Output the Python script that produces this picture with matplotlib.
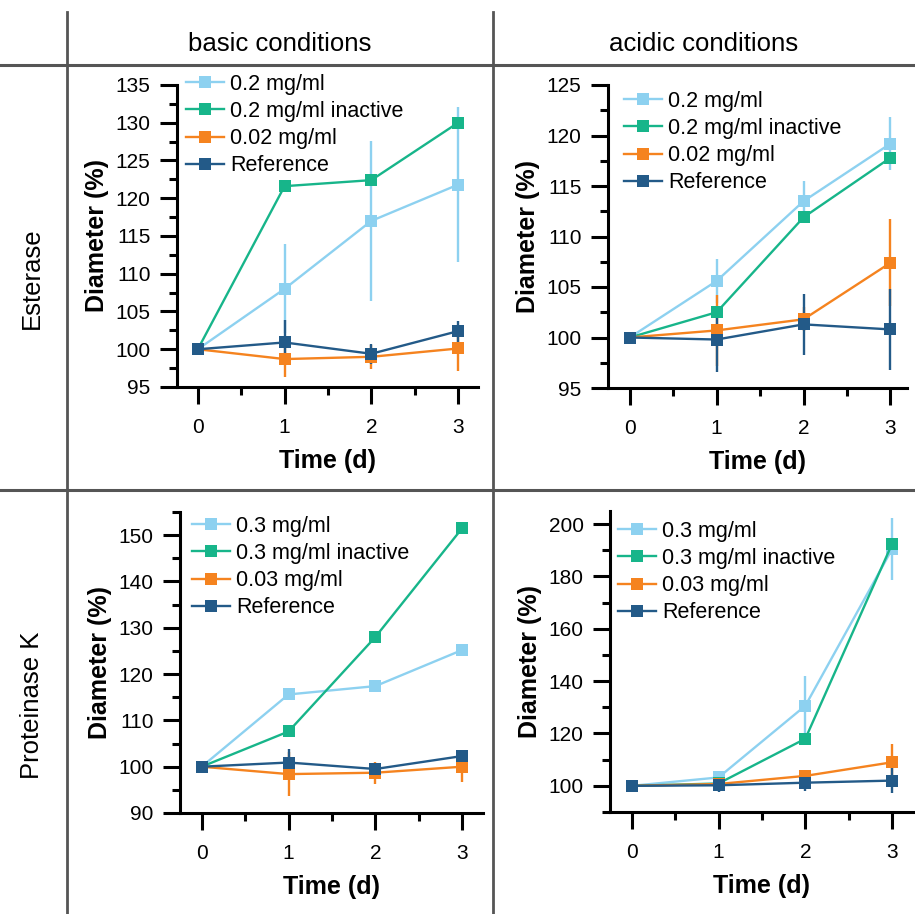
import matplotlib
matplotlib.use("Agg")
import matplotlib.pyplot as plt
from matplotlib.lines import Line2D
from matplotlib.ticker import MultipleLocator

TIME = [0, 1, 2, 3]

# esterase, basic conditions
est_basic_hi = [100, 108.0, 117.0, 121.8]
est_basic_hi_err = [0, 5.9, 10.6, 10.3]
est_basic_inact = [100, 121.6, 122.4, 130.0]
est_basic_inact_err = [0, 0.4, 0.5, 0.6]
est_basic_lo = [100, 98.7, 99.0, 100.1]
est_basic_lo_err = [0, 2.4, 1.6, 3.0]
est_basic_ref = [100, 100.9, 99.4, 102.4]
est_basic_ref_err = [0, 3.0, 1.3, 1.4]

# esterase, acidic conditions
est_acid_hi = [100, 105.6, 113.5, 119.2]
est_acid_hi_err = [0, 2.2, 2.0, 2.6]
est_acid_inact = [100, 102.5, 111.9, 117.8]
est_acid_inact_err = [0, 0.6, 0.5, 0.6]
est_acid_lo = [100, 100.7, 101.8, 107.4]
est_acid_lo_err = [0, 3.5, 1.2, 4.3]
est_acid_ref = [100, 99.8, 101.3, 100.8]
est_acid_ref_err = [0, 3.2, 3.05, 4.05]

# proteinase K, basic conditions
pk_basic_hi = [100, 115.6, 117.4, 125.2]
pk_basic_hi_err = [0, 0.5, 0.5, 0.5]
pk_basic_inact = [100, 107.6, 128.0, 151.5]
pk_basic_inact_err = [0, 0.5, 0.5, 0.5]
pk_basic_lo = [100, 98.4, 98.7, 100.0]
pk_basic_lo_err = [0, 4.8, 2.4, 3.2]
pk_basic_ref = [100, 100.9, 99.5, 102.3]
pk_basic_ref_err = [0, 3.0, 1.2, 1.3]

# proteinase K, acidic conditions
pk_acid_hi = [100, 103.2, 130.6, 190.5]
pk_acid_hi_err = [0, 1.0, 11.5, 12.0]
pk_acid_inact = [100, 100.9, 118.0, 192.5]
pk_acid_inact_err = [0, 0.8, 1.5, 1.5]
pk_acid_lo = [100, 100.7, 103.8, 109.0]
pk_acid_lo_err = [0, 1.0, 1.5, 7.0]
pk_acid_ref = [100, 100.2, 101.2, 102.0]
pk_acid_ref_err = [0, 2.6, 3.0, 4.8]

EST_LABELS = ["0.2 mg/ml", "0.2 mg/ml inactive", "0.02 mg/ml", "Reference"]
PK_LABELS = ["0.3 mg/ml", "0.3 mg/ml inactive", "0.03 mg/ml", "Reference"]
COLORS = ["#8DD1F0", "#17B58A", "#F5831F", "#235A88"]

COLUMN_TITLES = ["basic conditions", "acidic conditions"]
ROW_TITLES = ["Esterase", "Proteinase K"]

W, H = 915, 914

plt.rcParams.update({
    "font.family": ["Liberation Sans", "DejaVu Sans"],
    "font.size": 15,
    "axes.linewidth": 2.2,
    "xtick.major.width": 2.2,
    "ytick.major.width": 2.2,
    "xtick.minor.width": 2.2,
    "ytick.minor.width": 2.2,
    "xtick.major.size": 12,
    "ytick.major.size": 12,
    "xtick.minor.size": 5.5,
    "ytick.minor.size": 5.5,
    "xtick.direction": "out",
    "ytick.direction": "out",
})

fig = plt.figure(figsize=(W / 100, H / 100), dpi=100)


def px_rect(left, top, right, bottom):
    return [left / W, 1 - bottom / H, (right - left) / W, (bottom - top) / H]


panels = [
    dict(rect=px_rect(177, 85, 478, 387), xlim=(-0.24, 3.23), ylim=(95, 135),
         major=5, minor=2.5, labels=EST_LABELS, leg=(186, 74),
         series=[(est_basic_hi, est_basic_hi_err), (est_basic_inact, est_basic_inact_err),
                 (est_basic_lo, est_basic_lo_err), (est_basic_ref, est_basic_ref_err)]),
    dict(rect=px_rect(608, 85, 907, 388), xlim=(-0.25, 3.19), ylim=(95, 125),
         major=5, minor=2.5, labels=EST_LABELS, leg=(624, 91),
         series=[(est_acid_hi, est_acid_hi_err), (est_acid_inact, est_acid_inact_err),
                 (est_acid_lo, est_acid_lo_err), (est_acid_ref, est_acid_ref_err)]),
    dict(rect=px_rect(180, 512, 483, 813), xlim=(-0.25, 3.24), ylim=(90, 155),
         major=10, minor=5, labels=PK_LABELS, leg=(192, 516),
         series=[(pk_basic_hi, pk_basic_hi_err), (pk_basic_inact, pk_basic_inact_err),
                 (pk_basic_lo, pk_basic_lo_err), (pk_basic_ref, pk_basic_ref_err)]),
    dict(rect=px_rect(610, 511, 913, 812), xlim=(-0.25, 3.24), ylim=(90, 205),
         major=20, minor=10, labels=PK_LABELS, leg=(618, 521),
         series=[(pk_acid_hi, pk_acid_hi_err), (pk_acid_inact, pk_acid_inact_err),
                 (pk_acid_lo, pk_acid_lo_err), (pk_acid_ref, pk_acid_ref_err)]),
]

for p in panels:
    ax = fig.add_axes(p["rect"])
    handles = []
    for (vals, errs), color, label in zip(p["series"], COLORS, p["labels"]):
        ax.errorbar(TIME, vals, yerr=errs, color=color, ecolor=color,
                    linewidth=1.7, elinewidth=1.7, capsize=4.5, capthick=1.7,
                    marker="s", markersize=8.5, markeredgewidth=0,
                    clip_on=False)
        # plain line + marker for the legend, without the error bar stroke
        handles.append(Line2D([], [], color=color, linewidth=1.7, marker="s",
                              markersize=8.5, markeredgewidth=0, label=label))

    ax.set_xlim(*p["xlim"])
    ax.set_ylim(*p["ylim"])
    ax.spines["top"].set_visible(False)
    ax.spines["right"].set_visible(False)
    ax.set_xticks(TIME)
    ax.xaxis.set_minor_locator(MultipleLocator(0.5))
    ax.yaxis.set_major_locator(MultipleLocator(p["major"]))
    ax.yaxis.set_minor_locator(MultipleLocator(p["minor"]))
    ax.tick_params(axis="x", which="major", pad=10, labelsize=15)
    ax.tick_params(axis="y", which="major", pad=7, labelsize=15)
    ax.set_xlabel("Time (d)", fontsize=18, fontweight="bold", labelpad=9)
    ax.set_ylabel("Diameter (%)", fontsize=18, fontweight="bold", labelpad=5)

    lx, ly = p["leg"]
    ax.legend(handles=handles, loc="upper left", bbox_to_anchor=(lx / W, 1 - ly / H),
              bbox_transform=fig.transFigure, frameon=False, fontsize=15.5,
              handlelength=1.75, handletextpad=0.3, labelspacing=0.28,
              borderpad=0, borderaxespad=0)

# table frame around the panels
grid_color = "#555555"
for x in (67, 493):
    fig.add_artist(Line2D([x / W, x / W], [1 - 12 / H, 0], transform=fig.transFigure,
                          color=grid_color, linewidth=2))
for y in (65, 490):
    fig.add_artist(Line2D([0, 1], [1 - y / H, 1 - y / H], transform=fig.transFigure,
                          color=grid_color, linewidth=2.2))

for title, cx in zip(COLUMN_TITLES, (280, 704)):
    fig.text(cx / W, 1 - 44 / H, title, fontsize=18.5, ha="center", va="center")

for title, cy in zip(ROW_TITLES, (278, 705)):
    fig.text(32 / W, 1 - cy / H, title, fontsize=18.5, ha="center", va="center",
             rotation=90)

fig.savefig("out.png", dpi=100)
